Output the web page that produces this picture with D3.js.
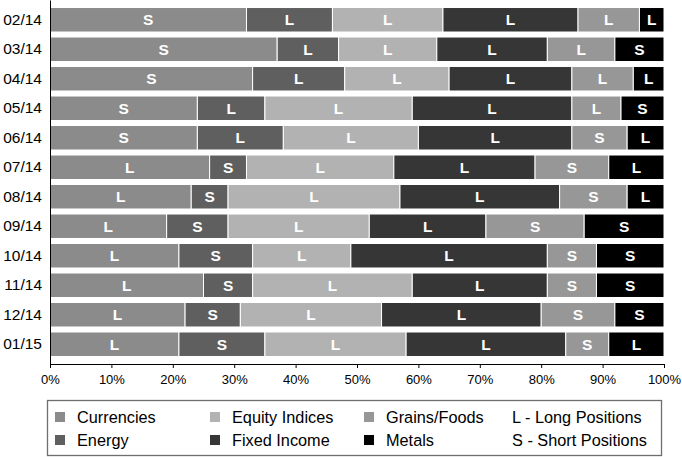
<!DOCTYPE html>
<html><head><meta charset="utf-8">
<script src="https://cdn.jsdelivr.net/npm/d3@7"></script>
<style>
html,body{margin:0;padding:0;background:#fff;}
svg{display:block;font-family:"Liberation Sans",Arial,Helvetica,sans-serif;}
</style></head>
<body>
<svg id="chart" width="682" height="457"></svg>
<script>
const months = ["02/14","03/14","04/14","05/14","06/14","07/14","08/14","09/14","10/14","11/14","12/14","01/15"];
const sectors = ["Currencies","Energy","Equity Indices","Fixed Income","Grains/Foods","Metals"];
const sectorColors = ["#8b8b8b","#5f5f5f","#b2b2b2","#363636","#979797","#000000"];
// percent allocation per sector, per month
const currencies   = [32,37,33,24,24,26,23,19,21,25,22,21];
const energy       = [14,10,15,11,14, 6, 6,10,12, 8, 9,14];
const equity       = [18,16,17,24,22,24,28,23,16,26,23,23];
const fixedIncome  = [22,18,20,26,25,23,26,19,32,22,26,26];
const grains       = [10,11,10, 8, 9,12,11,16, 8, 8,12, 7];
const metals       = [ 4, 8, 5, 7, 6, 9, 6,13,11,11, 8, 9];
// position direction per sector, per month
const currenciesPos  = ["S","S","S","S","S","L","L","L","L","L","L","L"];
const energyPos      = ["L","L","L","L","L","S","S","S","S","S","S","S"];
const equityPos      = ["L","L","L","L","L","L","L","L","L","L","L","L"];
const fixedIncomePos = ["L","L","L","L","L","L","L","L","L","L","L","L"];
const grainsPos      = ["L","L","L","L","S","S","S","S","S","S","S","S"];
const metalsPos      = ["L","S","L","S","L","L","L","S","S","S","S","L"];
const xTicks = [0,10,20,30,40,50,60,70,80,90,100];
const notes = ["L - Long Positions","S - Short Positions"];

const values = [currencies, energy, equity, fixedIncome, grains, metals];
const positions = [currenciesPos, energyPos, equityPos, fixedIncomePos, grainsPos, metalsPos];

const table = months.map((m,i)=>{
  const row = {month:m};
  sectors.forEach((s,j)=>{ row[s] = values[j][i]; });
  return row;
});
const stacked = d3.stack().keys(sectors)(table);

const svg = d3.select("#chart");
const x = d3.scaleLinear().domain([0,100]).range([50,664]);
const y = d3.scaleBand().domain(months).range([0,364]).paddingInner(0.17).paddingOuter(0.255);
const color = d3.scaleOrdinal().domain(sectors).range(sectorColors);

const layers = svg.append("g").selectAll("g").data(stacked).join("g")
  .attr("fill", d=>color(d.key));
layers.selectAll("rect").data(d=>d.map((v,i)=>({v,i,key:d.key}))).join("rect")
  .attr("x", d=>x(d.v[0]))
  .attr("y", d=>y(months[d.i]))
  .attr("width", d=>x(d.v[1])-x(d.v[0]))
  .attr("height", y.bandwidth())
  .attr("stroke","#fff").attr("stroke-width",1);

const labels = svg.append("g");
stacked.forEach((layer,j)=>{
  labels.selectAll(null).data(layer.map((v,i)=>({v,i}))).join("text")
    .attr("x", d=>(x(d.v[0])+x(d.v[1]))/2)
    .attr("y", d=>y(months[d.i])+y.bandwidth()/2)
    .attr("dy","0.36em")
    .attr("text-anchor","middle")
    .attr("fill","#fff")
    .attr("font-weight","bold")
    .attr("font-size","15.5px")
    .text(d=>positions[j][d.i]);
});

// axes
const xAxis = svg.append("g").attr("transform","translate(0,364)")
  .call(d3.axisBottom(x).tickValues(xTicks).tickFormat(d=>d+"%").tickSize(4).tickSizeOuter(0).tickPadding(7));
xAxis.selectAll("text").attr("font-size","13px").attr("font-family","Liberation Sans, Arial, sans-serif").attr("fill","#000");
xAxis.select(".domain").attr("stroke","#000");
xAxis.selectAll(".tick line").attr("stroke","#000");

const yAxis = svg.append("g").attr("transform","translate(50,0)")
  .call(d3.axisLeft(y).tickSize(0).tickSizeOuter(0).tickPadding(8));
yAxis.selectAll("text").attr("font-size","15.5px").attr("font-family","Liberation Sans, Arial, sans-serif").attr("fill","#000");
yAxis.select(".domain").attr("stroke","#000");

// legend
const lg = svg.append("g");
lg.append("rect").attr("x",47.5).attr("y",400.5).attr("width",614).attr("height",55)
  .attr("fill","none").attr("stroke","#6e6e6e").attr("stroke-width",1.3);
const colX = [55,210,364];
const rowY = [417,440];
sectors.forEach((s,i)=>{
  const cx = colX[Math.floor(i/2)], cy = rowY[i%2];
  lg.append("rect").attr("x",cx).attr("y",cy-5).attr("width",10).attr("height",10).attr("fill",color(s));
  lg.append("text").attr("x",cx+22).attr("y",cy).attr("dy","0.35em")
    .attr("font-size","16.3px").attr("fill","#000").text(s);
});
notes.forEach((n,i)=>{
  lg.append("text").attr("x",512).attr("y",rowY[i]).attr("dy","0.35em")
    .attr("font-size","16.3px").attr("fill","#000").text(n);
});
</script>
</body></html>
